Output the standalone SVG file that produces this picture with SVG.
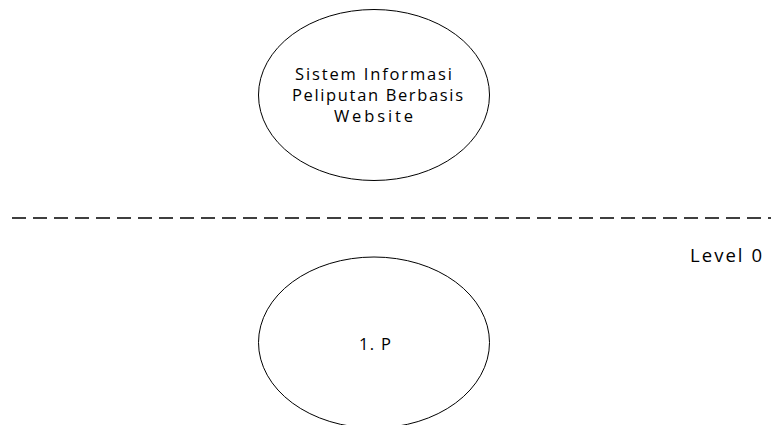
<svg xmlns="http://www.w3.org/2000/svg" width="771" height="425" viewBox="0 0 771 425">
<style>
.proc{fill:#ffffff;stroke:#000000;stroke-width:1}
.lbl{font-family:"Open Sans","Liberation Sans",sans-serif;font-size:16.5px;fill:#000000}
.lvl{font-family:"Open Sans","Liberation Sans",sans-serif;font-size:18.5px;fill:#000000}
.sep{stroke:#000000;stroke-width:1.5;stroke-dasharray:14 7;fill:none}
</style>
<rect x="0" y="0" width="771" height="425" fill="#ffffff"/>
<g id="connectors">
<line class="sep" x1="12" y1="218" x2="771" y2="218"/>
</g>
<g id="context-process">
<ellipse class="proc" cx="374" cy="95" rx="115.5" ry="85.5"/>
<text class="lbl" x="295" y="79.5" textLength="157" lengthAdjust="spacing">Sistem Informasi</text>
<text class="lbl" x="292" y="100.5" textLength="171" lengthAdjust="spacing">Peliputan Berbasis</text>
<text class="lbl" x="334" y="121.5" textLength="79" lengthAdjust="spacing">Website</text>
</g>
<g id="level-label">
<text class="lvl" x="690" y="262" textLength="72" lengthAdjust="spacing">Level 0</text>
</g>
<g id="process-1">
<ellipse class="proc" cx="374" cy="342.5" rx="115.5" ry="85.5"/>
<text class="lbl" x="359" y="349.5" textLength="32" lengthAdjust="spacing">1. P</text>
</g>
</svg>
